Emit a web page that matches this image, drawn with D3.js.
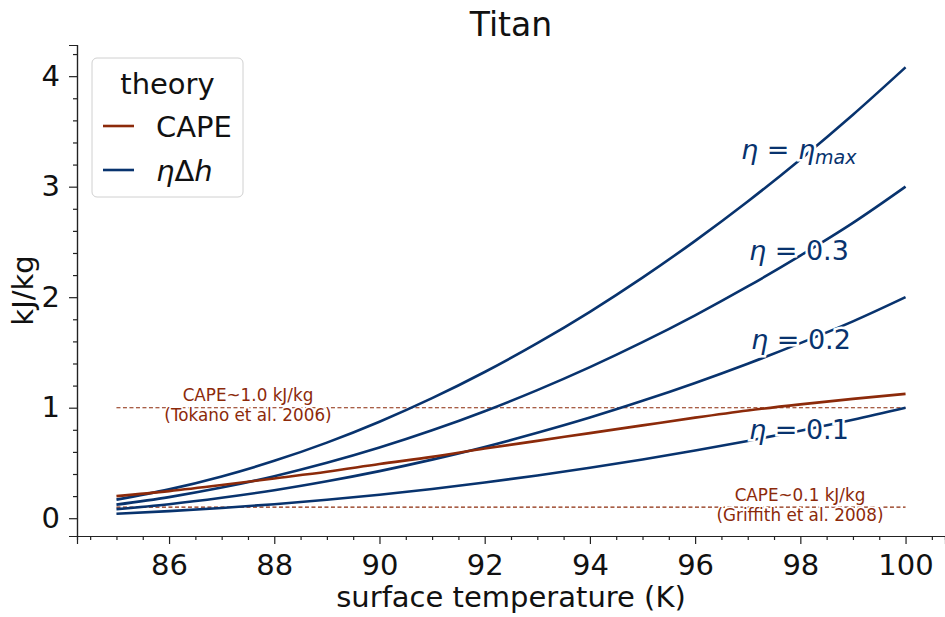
<!DOCTYPE html>
<html><head><meta charset="utf-8">
<script src="https://cdn.jsdelivr.net/npm/d3@7"></script>
<style>body{margin:0;background:#fff;} text{font-family:"DejaVu Sans",sans-serif;}</style>
</head><body>
<svg id="c" width="945" height="617"></svg>
<script>
const temps = [85,86,87,88,89,90,91,92,93,94,95,96,97,98,99,100];
const cape  = [0.20,0.245,0.30,0.36,0.42,0.49,0.555,0.63,0.70,0.77,0.84,0.91,0.975,1.03,1.08,1.125];
const eta01 = [0.041,0.064,0.092,0.127,0.167,0.213,0.265,0.323,0.386,0.456,0.531,0.612,0.699,0.792,0.891,1.0];
const eta02 = [0.082,0.127,0.185,0.253,0.334,0.426,0.530,0.645,0.773,0.911,1.062,1.224,1.398,1.584,1.781,2.0];
const eta03 = [0.123,0.191,0.277,0.380,0.501,0.639,0.795,0.968,1.159,1.367,1.593,1.836,2.097,2.376,2.672,3.0];
const etaMax= [0.168,0.261,0.378,0.519,0.684,0.873,1.086,1.323,1.584,1.868,2.177,2.510,2.866,3.247,3.651,4.08];
const xTicks = [86,88,90,92,94,96,98,100];
const yTicks = [0,1,2,3,4];
const refLevels = [1.0, 0.1];

const RED = "#8c2a0a", BLUE = "#08336e";
const svg = d3.select("#c");
const L = 77, R = 945, T = 45, B = 536;
const x = d3.scaleLinear().domain([84.25,100.75]).range([L,R]);
const y = d3.scaleLinear().domain([-0.161,4.282]).range([B,T]);

const xAxis = d3.axisBottom(x).tickValues(xTicks).tickSize(8).tickPadding(10).tickFormat(d3.format("d"));
const xMinor = d3.axisBottom(x).tickValues(d3.range(84.5,100.75,0.5).filter(v=>v%2!==0)).tickSize(4).tickFormat("");
const yAxis = d3.axisLeft(y).tickValues(yTicks).tickSize(8).tickPadding(9).tickFormat(d3.format("d"));
const yMinor = d3.axisLeft(y).tickValues(d3.range(0,4.21,0.2).map(v=>+v.toFixed(1)).filter(v=>Math.abs(v-Math.round(v))>1e-6)).tickSize(4).tickFormat("");

function styleAxis(g){
  g.selectAll("path").attr("stroke","#222").attr("stroke-width",1.2);
  g.selectAll("line").attr("stroke","#222").attr("stroke-width",1.2);
  g.selectAll("text").attr("font-size",29).attr("fill","#111").attr("font-family","DejaVu Sans");
}
svg.append("g").attr("transform",`translate(0,${B})`).call(xMinor).call(styleAxis);
svg.append("g").attr("transform",`translate(0,${B})`).call(xAxis).call(styleAxis);
svg.append("g").attr("transform",`translate(${L},0)`).call(yMinor).call(styleAxis);
svg.append("g").attr("transform",`translate(${L},0)`).call(yAxis).call(styleAxis);

refLevels.forEach(v=>{
  svg.append("line").attr("x1",x(85)).attr("x2",x(100)).attr("y1",y(v)).attr("y2",y(v))
    .attr("stroke",RED).attr("stroke-width",1.1).attr("stroke-dasharray","4,2.5");
});

const line = d3.line().x((d,i)=>x(temps[i])).y(d=>y(d)).curve(d3.curveMonotoneX);
[eta01,eta02,eta03,etaMax].forEach(s=>{
  svg.append("path").attr("d",line(s)).attr("fill","none").attr("stroke",BLUE).attr("stroke-width",2.6);
});
svg.append("path").attr("d",line(cape)).attr("fill","none").attr("stroke",RED).attr("stroke-width",2.6);

function annot(cx, b1, b2, t1, t2){
  [[b1,t1],[b2,t2]].forEach(([yy,t])=>{
    svg.append("text").attr("x",cx).attr("y",yy).attr("text-anchor","middle").attr("font-size",16.8)
      .attr("fill",RED).attr("stroke","#fff").attr("stroke-width",3).attr("paint-order","stroke").text(t);
  });
}
annot(248, 401, 421, "CAPE~1.0 kJ/kg", "(Tokano et al. 2006)");
annot(800, 501, 521, "CAPE~0.1 kJ/kg", "(Griffith et al. 2008)");

function etaLabel(lx, by, val, isMax){
  const t = svg.append("text").attr("x",lx).attr("y",by).attr("font-size",27).attr("fill",BLUE)
    .attr("stroke","#fff").attr("stroke-width",5).attr("paint-order","stroke");
  t.append("tspan").attr("font-style","italic").text("η");
  t.append("tspan").text(" = ");
  if(isMax){
    t.append("tspan").attr("font-style","italic").text("η");
    t.append("tspan").attr("font-style","italic").attr("font-size",19).attr("dy",5).text("max");
  } else {
    t.append("tspan").text(val);
  }
}
etaLabel(741, 159, "", true);
etaLabel(749, 260, "0.3", false);
etaLabel(751, 349, "0.2", false);
etaLabel(749, 439, "0.1", false);

svg.append("text").attr("x",(L+R)/2).attr("y",36).attr("text-anchor","middle").attr("font-size",33).attr("fill","#111").text("Titan");
svg.append("text").attr("x",(L+R)/2).attr("y",607).attr("text-anchor","middle").attr("font-size",29).attr("fill","#111").text("surface temperature (K)");
svg.append("text").attr("transform",`translate(33,${(T+B)/2}) rotate(-90)`).attr("text-anchor","middle").attr("font-size",29).attr("fill","#111").text("kJ/kg");

const lg = svg.append("g");
lg.append("rect").attr("x",92).attr("y",58).attr("width",151).attr("height",139).attr("rx",5)
  .attr("fill","#fff").attr("fill-opacity",0.85).attr("stroke","#d0d0d0").attr("stroke-width",1);
lg.append("text").attr("x",167.5).attr("y",94).attr("text-anchor","middle").attr("font-size",29).attr("fill","#111").text("theory");
const entries = [{c:RED, label:"CAPE"},{c:BLUE, label:null}];
entries.forEach((e,i)=>{
  const yy = 126 + i*44;
  lg.append("line").attr("x1",103).attr("x2",134).attr("y1",yy).attr("y2",yy).attr("stroke",e.c).attr("stroke-width",2.6);
  const t = lg.append("text").attr("x",156).attr("y",yy+10.5).attr("font-size",29).attr("fill","#111");
  if(e.label) t.text(e.label);
  else {
    t.append("tspan").attr("font-style","italic").text("η");
    t.append("tspan").text("Δ");
    t.append("tspan").attr("font-style","italic").text("h");
  }
});
</script>
</body></html>
